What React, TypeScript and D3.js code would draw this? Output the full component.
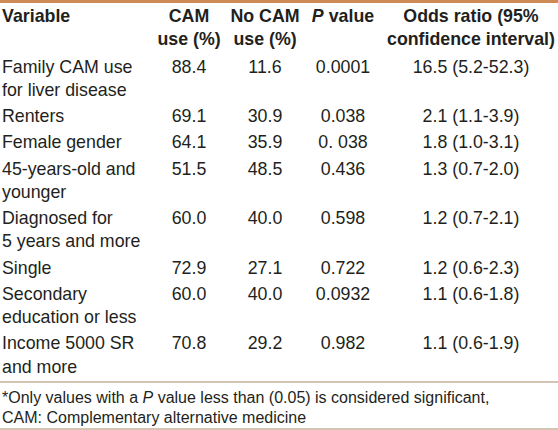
import React from "react";
import * as d3 from "d3";

const headers = [["Variable"], ["CAM", "use (%)"], ["No CAM", "use (%)"], ["P value"], ["Odds ratio (95%", "confidence interval)"]];
const variables = [
  ["Family CAM use", "for liver disease"],
  ["Renters"],
  ["Female gender"],
  ["45-years-old and", "younger"],
  ["Diagnosed for", "5 years and more"],
  ["Single"],
  ["Secondary", "education or less"],
  ["Income 5000 SR", "and more"],
];
const camUse = ["88.4", "69.1", "64.1", "51.5", "60.0", "72.9", "60.0", "70.8"];
const noCamUse = ["11.6", "30.9", "35.9", "48.5", "40.0", "27.1", "40.0", "29.2"];
const pValues = ["0.0001", "0.038", "0. 038", "0.436", "0.598", "0.722", "0.0932", "0.982"];
const oddsRatios = ["16.5 (5.2-52.3)", "2.1 (1.1-3.9)", "1.8 (1.0-3.1)", "1.3 (0.7-2.0)", "1.2 (0.7-2.1)", "1.2 (0.6-2.3)", "1.1 (0.6-1.8)", "1.1 (0.6-1.9)"];

const W = 558, H = 430;
const FONT = "'Liberation Sans', Arial, sans-serif";
const TEXT = "#231f20";

export default function App() {
  const colX = [2, 189, 265, 343, 471];
  const anchors = ["start", "middle", "middle", "middle", "middle"];
  const lineH = 23.3;
  const rowGap = 26.2;
  const starts: number[] = [];
  let cur = 66.5;
  variables.forEach((v) => {
    starts.push(cur);
    cur += (v.length - 1) * lineH + rowGap;
  });
  const y = d3.scaleLinear().domain([0, 1]).range([0, 1]);
  const fs = 17.8;

  return (
    <svg width={W} height={H} style={{ position: "absolute", left: 0, top: 0, background: "#fff" }} fontFamily={FONT}>
      <rect x={0} y={0} width={W} height={H} fill="#fff" />
      <line x1={0} x2={W} y1={1.5} y2={1.5} stroke="#cd8a55" strokeWidth={3} />
      {headers.map((h, ci) =>
        h.map((t, li) => (
          <text key={`h${ci}${li}`} x={colX[ci]} y={y(15.5 + li * 23)} dy="0.35em" textAnchor={anchors[ci]}
            fontWeight="bold" fontSize={fs} fill={TEXT}>
            {t === "P value" ? (<><tspan fontStyle="italic">P</tspan> value</>) : t}
          </text>
        ))
      )}
      {variables.map((v, ri) => {
        const cells = [v, [camUse[ri]], [noCamUse[ri]], [pValues[ri]], [oddsRatios[ri]]];
        return cells.map((lines, ci) =>
          lines.map((t, li) => (
            <text key={`r${ri}c${ci}l${li}`} x={colX[ci]} y={y(starts[ri] + li * lineH)} dy="0.35em"
              textAnchor={anchors[ci]} fontSize={fs} fill={TEXT}>{t}</text>
          ))
        );
      })}
      <line x1={0} x2={W} y1={382} y2={382} stroke="#a88a6a" strokeWidth={1.2} />
      <text x={2} y={397} dy="0.35em" fontSize={16} fill={TEXT}>
        *Only values with a <tspan fontStyle="italic">P</tspan> value less than (0.05) is considered significant,
      </text>
      <text x={2} y={417} dy="0.35em" fontSize={16} fill={TEXT}>CAM: Complementary alternative medicine</text>
      <line x1={0} x2={W} y1={429} y2={429} stroke="#a88a6a" strokeWidth={1.2} />
    </svg>
  );
}
